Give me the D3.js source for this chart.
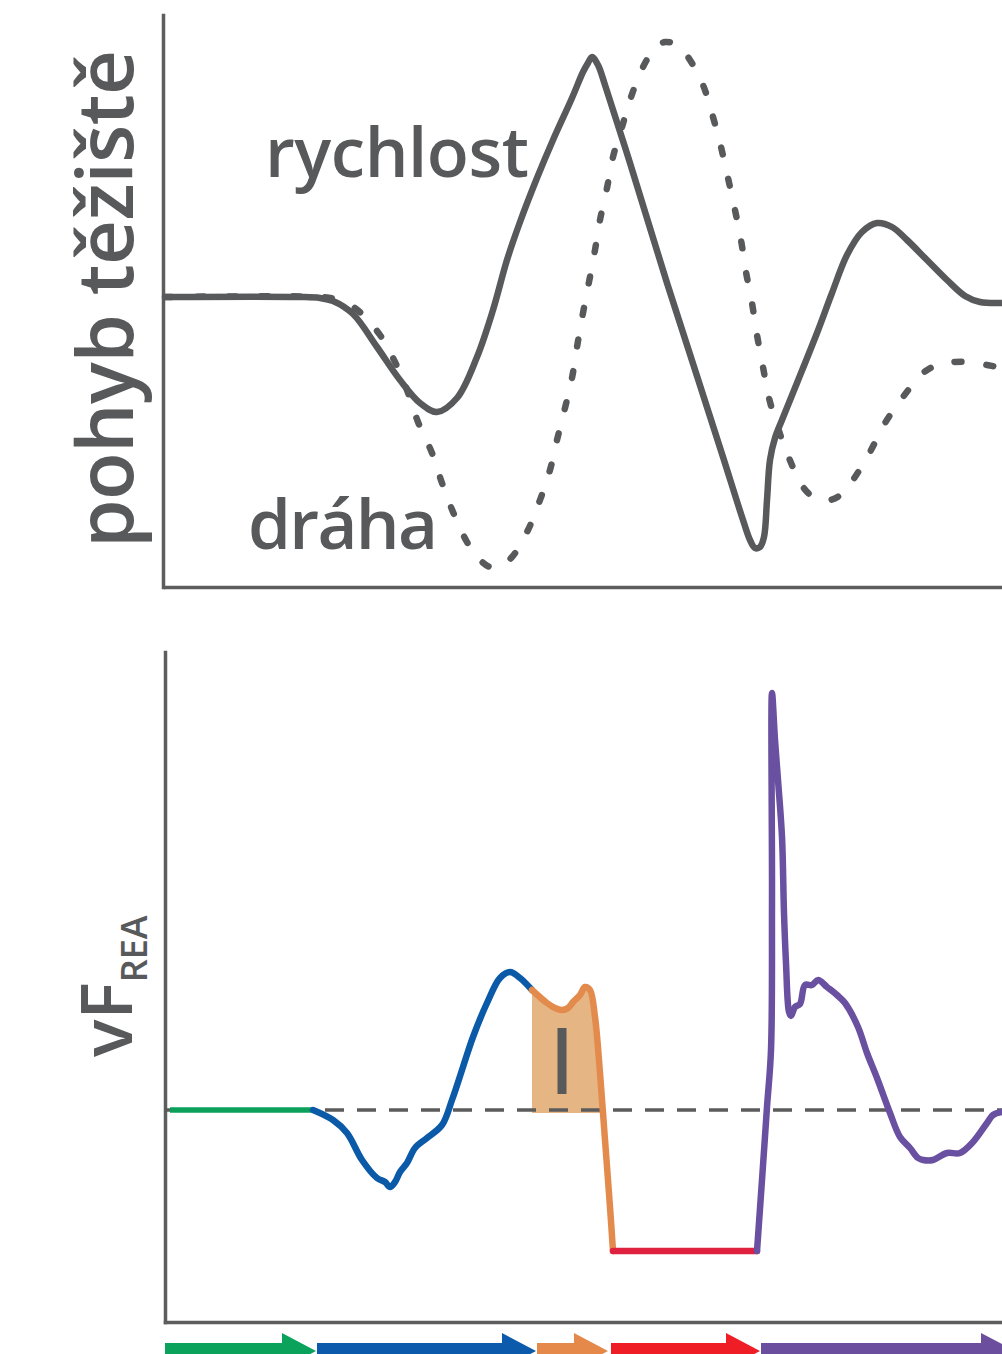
<!DOCTYPE html>
<html>
<head>
<meta charset="utf-8">
<script src="https://cdn.jsdelivr.net/npm/d3@7"></script>
<style>
  body { margin: 0; background: #fff; }
  text { font-family: "Open Sans", "Noto Sans", sans-serif; font-weight: 600; fill: #58595b; }
</style>
</head>
<body>
<div id="chart"></div>
<script>
// time runs 0..837 (arbitrary units), values relative to the rest level

// top panel: centre of mass velocity (solid) and path (dashed)
const rychlost = [
    [0, 0], [135, 0], [155, -1], [168, -4], [188, -17], [212, -50], [235, -83], [255, -106],
    [272, -115], [292, -101], [312, -60], [328, -13], [342, 37], [355, 75], [372, 119],
    [388, 157], [407, 199], [418, 225], [423, 234], [427, 240], [433, 232], [440, 212],
    [465, 134], [502, 14], [532, -79], [558, -160], [578, -223], [585, -243], [590, -251],
    [595, -250], [599, -240], [602, -203], [605, -163], [610, -141], [617, -123], [632, -86],
    [652, -36], [667, 4], [682, 42], [697, 65], [712, 74], [727, 70], [742, 57], [762, 37],
    [782, 17], [800, 1], [815, -5], [837, -6]
];

const draha = [
    [0, 0], [155, 0], [170, -2], [185, -8], [197, -17], [215, -38], [230, -65], [242, -93],
    [253, -125], [267, -156], [277, -186], [288, -215], [302, -245], [313, -261], [325, -270],
    [335, -269], [347, -260], [363, -233], [375, -203], [385, -173], [392, -143], [400, -111],
    [407, -81], [412, -50], [418, -16], [424, 15], [430, 47], [435, 77], [442, 109], [448, 140],
    [457, 170], [465, 197], [478, 230], [490, 249], [500, 255], [512, 252], [523, 240],
    [538, 212], [548, 180], [556, 150], [563, 119], [570, 87], [576, 57], [581, 25], [587, -6],
    [592, -38], [598, -70], [604, -101], [613, -131], [624, -161], [638, -190], [650, -201],
    [665, -203], [678, -196], [688, -183], [705, -155], [720, -126], [738, -100], [758, -76],
    [775, -67], [788, -65], [805, -65], [822, -68], [837, -71]
];

// bottom panel: vF_REA split in phases
const phaseGreen = [[5, 0], [148, 0]];
const phaseBlue = [
    [148, 0], [168, -10], [182, -23], [197, -50], [212, -68], [220, -72], [225, -77],
    [230, -72], [235, -62], [242, -53], [250, -38], [262, -28], [277, -15], [287, 10],
    [298, 43], [308, 73], [322, 107], [335, 132], [345, 138], [355, 132], [367, 120]
];
const phaseOrange = [
    [367, 120], [382, 107], [390, 102], [397, 100], [403, 102], [408, 108], [415, 115],
    [420, 123], [425, 120], [430, 93], [435, 37], [440, -30], [445, -97], [448, -141]
];
const phaseRed = [[448, -141], [592, -141]];
const phasePurple = [
    [592, -141], [597, -70], [602, 3], [606, 60], [607, 210], [607, 417], [610, 370],
    [613, 330], [617, 273], [619, 197], [621, 147], [624, 98], [626, 94], [630, 103],
    [635, 106], [640, 125], [647, 125], [653, 130], [662, 123], [672, 115], [680, 107],
    [693, 83], [702, 57], [712, 32], [725, -3], [735, -27], [745, -38], [753, -48],
    [758, -50], [768, -50], [782, -43], [795, -43], [808, -32], [822, -13], [828, -5], [837, -2]
];

// impulse marker inside the orange area
const markerT = 397;
const markerRange = [16, 82];

// phase arrows along the time axis
const arrowStart = [0, 152, 372, 446, 596];
const arrowTip = [151, 371, 443, 595, 850];
const arrowColors = ["#0ba25b", "#0c5aab", "#e5894b", "#ee1d26", "#6b4f9e"];

const gray = "#58595b";

const svg = d3.select("#chart").append("svg")
    .attr("width", 1002)
    .attr("height", 1354);

const x = d3.scaleLinear().domain([0, 837]).range([165, 1002]);
const yTop = d3.scaleLinear().domain([-290, 282]).range([587, 15]);
const yBot = d3.scaleLinear().domain([-212, 458]).range([1322, 652]);

function bareAxis(g) {
    g.selectAll(".domain")
        .attr("stroke", "#5d5d5d")
        .attr("stroke-width", 3.5)
        .attr("stroke-linecap", "square");
}

// axes without ticks
svg.append("g").attr("transform", "translate(163,0)")
    .call(d3.axisLeft(yTop).tickValues([]).tickSizeOuter(0)).call(bareAxis);
svg.append("g").attr("transform", `translate(0,${yTop.range()[0]})`)
    .call(d3.axisBottom(x).tickValues([]).tickSizeOuter(0)).call(bareAxis);
svg.append("g").attr("transform", `translate(${x(0)},0)`)
    .call(d3.axisLeft(yBot).tickValues([]).tickSizeOuter(0)).call(bareAxis);
svg.append("g").attr("transform", `translate(0,${yBot.range()[0]})`)
    .call(d3.axisBottom(x).tickValues([]).tickSizeOuter(0)).call(bareAxis);

const curve = d3.curveCatmullRom.alpha(0.5);
const lineTop = d3.line().x(d => x(d[0])).y(d => yTop(d[1])).curve(curve);
const lineBot = d3.line().x(d => x(d[0])).y(d => yBot(d[1])).curve(curve);

// top panel curves
svg.append("path")
    .datum(draha)
    .attr("fill", "none")
    .attr("stroke", gray)
    .attr("stroke-width", 6.5)
    .attr("stroke-linecap", "round")
    .attr("stroke-dasharray", "7 25")
    .attr("d", lineTop);

svg.append("path")
    .datum(rychlost)
    .attr("fill", "none")
    .attr("stroke", gray)
    .attr("stroke-width", 6.5)
    .attr("stroke-linejoin", "round")
    .attr("d", lineTop);

svg.append("text")
    .attr("x", 265).attr("y", 177)
    .attr("font-size", 69)
    .attr("textLength", 264)
    .text("rychlost");

svg.append("text")
    .attr("x", 248).attr("y", 549)
    .attr("font-size", 69)
    .attr("textLength", 190)
    .text("dráha");

svg.append("text")
    .attr("transform", "translate(133,299) rotate(-90)")
    .attr("text-anchor", "middle")
    .attr("font-size", 78)
    .attr("textLength", 498)
    .text("pohyb těžiště");

// bottom panel
svg.append("clipPath").attr("id", "above-zero")
    .append("rect")
    .attr("x", 0).attr("y", 0)
    .attr("width", 1002).attr("height", yBot(-3));

svg.append("path")
    .datum(phaseOrange)
    .attr("clip-path", "url(#above-zero)")
    .attr("fill", "#e6b584")
    .attr("d", d3.area().x(d => x(d[0])).y0(yBot(-3)).y1(d => yBot(d[1])).curve(curve));

svg.append("line")
    .attr("x1", x(markerT)).attr("x2", x(markerT))
    .attr("y1", yBot(markerRange[0])).attr("y2", yBot(markerRange[1]))
    .attr("stroke", gray)
    .attr("stroke-width", 9);

svg.append("line")
    .attr("x1", x(0)).attr("x2", x(837))
    .attr("y1", yBot(0)).attr("y2", yBot(0))
    .attr("stroke", "#5b5b5b")
    .attr("stroke-width", 3.5)
    .attr("stroke-dasharray", "19 13");

const phases = [
    { data: phaseGreen, color: "#0aa05a", width: 5.5, cap: "butt" },
    { data: phaseBlue, color: "#0b5aa8", width: 6.5, cap: "round" },
    { data: phaseOrange, color: "#e38b4d", width: 6.5, cap: "round" },
    { data: phaseRed, color: "#e0203f", width: 6.5, cap: "round" },
    { data: phasePurple, color: "#6a50a0", width: 6.5, cap: "round" }
];

phases.forEach(p => {
    svg.append("path")
        .datum(p.data)
        .attr("fill", "none")
        .attr("stroke", p.color)
        .attr("stroke-width", p.width)
        .attr("stroke-linecap", p.cap)
        .attr("stroke-linejoin", "round")
        .attr("d", lineBot);
});

const label = svg.append("text")
    .attr("transform", "translate(132,1057) rotate(-90)");
label.append("tspan").attr("font-size", 70).text("vF");
label.append("tspan").attr("font-size", 36).attr("dy", 15).text("REA");

// phase arrows
const cy = 1351, shaft = 8, head = 18, headLen = 34;
svg.append("g").selectAll("path")
    .data(arrowStart.map((s, i) => ({ s, t: arrowTip[i], color: arrowColors[i] })))
    .join("path")
    .attr("fill", d => d.color)
    .attr("d", d => {
        const sx = x(d.s), tx = x(d.t), hb = tx - headLen;
        return `M${sx},${cy - shaft}H${hb}V${cy - head}L${tx},${cy}L${hb},${cy + head}V${cy + shaft}H${sx}Z`;
    });
</script>
</body>
</html>
